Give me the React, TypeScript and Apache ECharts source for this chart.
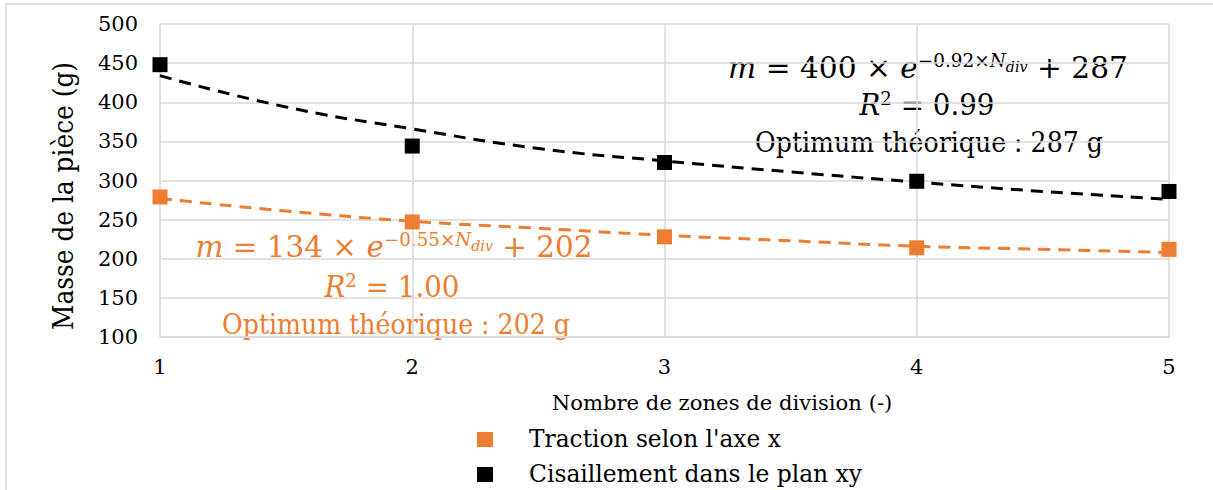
import React, { useEffect, useRef } from "react";
import * as echarts from "echarts";

const xValues = [1, 2, 3, 4, 5];
const tractionValues = [279, 247, 228, 214, 212];
const cisaillementValues = [448, 344, 323, 299, 286];

const trendX = [1, 1.5, 2, 2.5, 3, 3.5, 4, 4.5, 5];
const tractionTrend = [277, 261, 248, 239, 230, 223, 216, 212, 208];
const cisaillementTrend = [434, 394, 366, 341, 325, 311, 298, 286, 276];

const legendNames = ["Traction selon l'axe x", "Cisaillement dans le plan xy"];
const yTitle = "Masse de la pièce (g)";
const xTitle = "Nombre de zones de division (-)";
const optBlack = "Optimum théorique : 287 g";
const optOrange = "Optimum théorique : 202 g";

const ORANGE = "#ED7D31";
const BLACK = "#000000";
const FONT = "DejaVu Serif";

let measureCtx: CanvasRenderingContext2D | null = null;
function measure(text: string, size: number, italic = false): number {
  if (!measureCtx) measureCtx = document.createElement("canvas").getContext("2d");
  measureCtx!.font = `${italic ? "italic " : ""}${size}px ${FONT}`;
  return measureCtx!.measureText(text).width;
}
function fitScale(text: string, size: number, target: number): number {
  const w = measure(text, size);
  return w > 0 ? target / w : 1;
}

const MAIN = 29;
const SUP = 18;
const SUB = 14;
const SUP2 = 19;

function eqRich(color: string) {
  return {
    m: { fontFamily: FONT, fontSize: MAIN, fontStyle: "italic", fill: color, lineHeight: 32 },
    n: { fontFamily: FONT, fontSize: MAIN, fill: color, lineHeight: 32 },
    sup: { fontFamily: FONT, fontSize: SUP, fill: color, lineHeight: 18, verticalAlign: "top" },
    sup2: { fontFamily: FONT, fontSize: SUP2, fill: color, lineHeight: 21, verticalAlign: "top" },
    supi: { fontFamily: FONT, fontSize: SUP, fontStyle: "italic", fill: color, lineHeight: 18, verticalAlign: "top" },
    sub: { fontFamily: FONT, fontSize: SUB, fontStyle: "italic", fill: color, lineHeight: 14, verticalAlign: "top", padding: [8, 0, 0, 0] },
  };
}

function eqWidth(parts: [string, number, boolean][]): number {
  return parts.reduce((s, p) => s + measure(p[0], p[1], p[2]), 0);
}

function equation(a: string, b: string, c: string) {
  const text = `{m|m}{n| = ${a} × }{m|e}{sup|−${b}×}{supi|N}{sub|div}{n| + ${c}}`;
  const w = eqWidth([
    ["m", MAIN, true],
    [` = ${a} × `, MAIN, false],
    ["e", MAIN, true],
    [`−${b}×`, SUP, false],
    ["N", SUP, true],
    ["div", SUB, true],
    [` + ${c}`, MAIN, false],
  ]);
  return { text, w };
}
function rsq(v: string) {
  const text = `{m|R}{sup2|2}{n| = ${v}}`;
  const w = eqWidth([
    ["R", MAIN, true],
    ["2", SUP2, false],
    [` = ${v}`, MAIN, false],
  ]);
  return { text, w };
}

export default function App() {
  const ref = useRef<HTMLDivElement>(null);
  useEffect(() => {
    document.body.style.margin = "0";
    const chart = echarts.init(ref.current!, null, { renderer: "svg" });
    const eqB = equation("400", "0.92", "287");
    const eqO = equation("134", "0.55", "202");
    const rB = rsq("0.99");
    const rO = rsq("1.00");
    const option: any = {
      animation: false,
      backgroundColor: "#ffffff",
      grid: { left: 160, right: 44, top: 24, bottom: 153 },
      xAxis: {
        type: "value",
        min: 1,
        max: 5,
        interval: 1,
        axisLine: { show: true, lineStyle: { color: "#d9d9d9", width: 1.5 } },
        axisTick: { show: false },
        splitLine: { show: true, lineStyle: { color: "#d9d9d9", width: 1.5 } },
        axisLabel: { color: "#000", fontFamily: FONT, fontSize: 21, margin: 19 },
      },
      yAxis: {
        type: "value",
        min: 100,
        max: 500,
        interval: 50,
        axisLine: { show: false },
        axisTick: { show: false },
        splitLine: { show: true, lineStyle: { color: "#d9d9d9", width: 1.5 } },
        axisLabel: { color: "#000", fontFamily: FONT, fontSize: 21, margin: 22 },
      },
      series: [
        {
          type: "line",
          name: "trend-traction",
          smooth: true,
          showSymbol: false,
          symbol: "none",
          data: trendX.map((x, i) => [x, tractionTrend[i]]),
          lineStyle: { color: ORANGE, width: 3, type: [12, 8] },
          z: 2,
        },
        {
          type: "line",
          name: "trend-cisaillement",
          smooth: true,
          showSymbol: false,
          symbol: "none",
          data: trendX.map((x, i) => [x, cisaillementTrend[i]]),
          lineStyle: { color: BLACK, width: 3, type: [12, 8] },
          z: 2,
        },
        {
          type: "scatter",
          name: legendNames[0],
          symbol: "rect",
          symbolSize: 15,
          itemStyle: { color: ORANGE, opacity: 1 },
          data: xValues.map((x, i) => [x, tractionValues[i]]),
          z: 3,
        },
        {
          type: "scatter",
          name: legendNames[1],
          symbol: "rect",
          symbolSize: 15,
          itemStyle: { color: BLACK, opacity: 1 },
          data: xValues.map((x, i) => [x, cisaillementValues[i]]),
          z: 3,
        },
      ],
      graphic: [
        {
          type: "rect",
          shape: { x: 6, y: 4, width: 1300, height: 600 },
          style: { fill: "none", stroke: "#d9d9d9", lineWidth: 1.5 },
          silent: true,
          z: -10,
        },
        { type: "rect", shape: { x: 477, y: 432, width: 16, height: 15 }, style: { fill: ORANGE } },
        {
          type: "text",
          x: 529,
          y: 439,
          scaleX: fitScale(legendNames[0], 25, 252),
          style: { text: legendNames[0], fontFamily: FONT, fontSize: 25, fill: "#000", align: "left", verticalAlign: "middle" },
        },
        { type: "rect", shape: { x: 477, y: 467, width: 16, height: 15 }, style: { fill: BLACK } },
        {
          type: "text",
          x: 529,
          y: 474,
          scaleX: fitScale(legendNames[1], 25, 333),
          style: { text: legendNames[1], fontFamily: FONT, fontSize: 25, fill: "#000", align: "left", verticalAlign: "middle" },
        },
        {
          type: "text",
          x: 63,
          y: 196,
          rotation: Math.PI / 2,
          scaleX: fitScale(yTitle, 28, 268),
          style: { text: yTitle, fontFamily: FONT, fontSize: 28, fill: "#000", align: "center", verticalAlign: "middle" },
        },
        {
          type: "text",
          x: 722,
          y: 403,
          scaleX: fitScale(xTitle, 20, 341),
          style: { text: xTitle, fontFamily: FONT, fontSize: 20, fill: "#000", align: "center", verticalAlign: "middle" },
        },
        {
          type: "text",
          x: 928,
          y: 68,
          scaleX: 400 / eqB.w,
          style: { text: eqB.text, rich: eqRich(BLACK), align: "center", verticalAlign: "middle" },
        },
        {
          type: "text",
          x: 927,
          y: 105,
          scaleX: 135 / rB.w,
          style: { text: rB.text, rich: eqRich(BLACK), align: "center", verticalAlign: "middle" },
        },
        {
          type: "text",
          x: 929,
          y: 142,
          scaleX: fitScale(optBlack, 28, 348),
          style: { text: optBlack, fontFamily: FONT, fontSize: 28, fill: BLACK, align: "center", verticalAlign: "middle" },
        },
        {
          type: "text",
          x: 394,
          y: 247,
          scaleX: 397 / eqO.w,
          style: { text: eqO.text, rich: eqRich(ORANGE), align: "center", verticalAlign: "middle" },
        },
        {
          type: "text",
          x: 392,
          y: 287,
          scaleX: 135 / rO.w,
          style: { text: rO.text, rich: eqRich(ORANGE), align: "center", verticalAlign: "middle" },
        },
        {
          type: "text",
          x: 396,
          y: 324,
          scaleX: fitScale(optOrange, 28, 348),
          style: { text: optOrange, fontFamily: FONT, fontSize: 28, fill: ORANGE, align: "center", verticalAlign: "middle" },
        },
      ],
    };
    chart.setOption(option);
    return () => chart.dispose();
  }, []);
  return <div ref={ref} style={{ width: 1213, height: 490 }} />;
}
